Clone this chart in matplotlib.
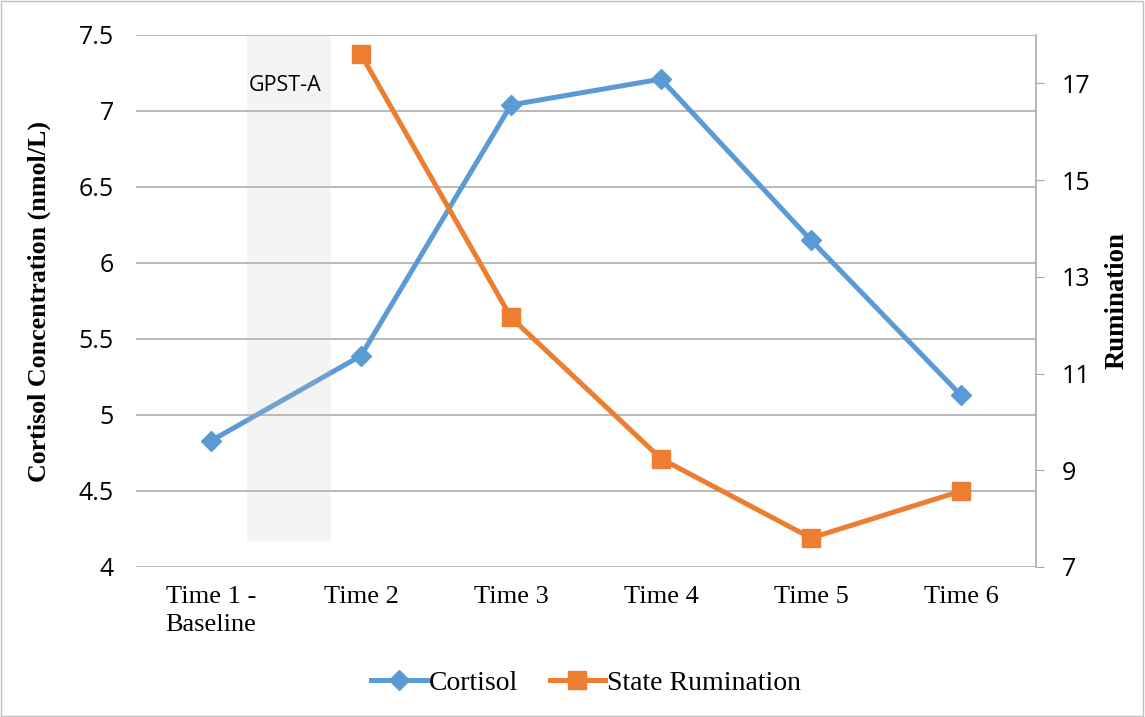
import numpy as np
import matplotlib.pyplot as plt
from matplotlib.patches import Rectangle

categories = ["Time 1 -\nBaseline", "Time 2", "Time 3", "Time 4", "Time 5", "Time 6"]
cortisol = [4.83, 5.39, 7.04, 7.21, 6.15, 5.13]
rumination = [np.nan, 17.6, 12.16, 9.24, 7.6, 8.57]

blue = "#5B9BD5"
orange = "#ED7D31"
serif = ["Liberation Serif", "DejaVu Serif"]
sans = ["Open Sans", "DejaVu Sans"]

fig = plt.figure(figsize=(11.45, 7.17), dpi=100)
fig.patches.append(Rectangle((0.001, 0.001), 0.997, 0.997, transform=fig.transFigure,
                             fill=False, edgecolor="#BFBFBF", linewidth=1))
ax = fig.add_axes([136/1145, 150/717, 900/1145, 532/717])
ax2 = ax.twinx()

x = np.arange(len(categories))

l1, = ax.plot(x, cortisol, color=blue, lw=3.6, marker="D", markersize=10.5,
              label="Cortisol", zorder=4)
l2, = ax2.plot(x, rumination, color=orange, lw=3.6, marker="s", markersize=13.5,
               label="State Rumination", zorder=4)

# shaded GPST-A window, semi-transparent over the lines
ax2.add_patch(Rectangle((0.24, 7.0 + (4.17 - 4) * 11 / 3.5), 0.56, 11, facecolor="#C4C4C4",
                        alpha=0.18, edgecolor="none", zorder=5))
ax2.text(0.25, 7.0 + (7.17 - 4) * 11 / 3.5, "GPST-A", fontsize=15.5, family=sans,
         va="center", ha="left", zorder=6)

ax.set_xlim(-0.5, 5.5)
ax.set_ylim(4, 7.5)
ax.set_yticks(np.arange(4, 7.51, 0.5))
ax.set_yticklabels(["4", "4.5", "5", "5.5", "6", "6.5", "7", "7.5"])
ax2.set_ylim(7, 18)
ax2.set_yticks([7, 9, 11, 13, 15, 17])

ax.set_xticks(x)
ax.set_xticklabels(categories, family=serif, fontsize=19, va="top", ha="center",
                   multialignment="left", linespacing=1.3)
ax.tick_params(axis="x", length=0, pad=14)
ax.tick_params(axis="y", length=0, pad=16, labelsize=18)
for t in ax.get_yticklabels():
    t.set_family(sans)
ax2.tick_params(axis="y", length=5.5, color="#A6A6A6", pad=13, labelsize=18)
for t in ax2.get_yticklabels():
    t.set_family(sans)

ax.grid(axis="y", color="#A6A6A6", lw=1.1)
ax.set_axisbelow(True)
for a in (ax, ax2):
    for s in ("top", "left", "bottom", "right"):
        a.spines[s].set_visible(False)
ax2.spines["right"].set_visible(True)
ax2.spines["right"].set_color("#A6A6A6")
ax2.spines["right"].set_linewidth(1.1)

ax.set_ylabel("Cortisol Concentration (nmol/L)", family=serif, fontweight="bold",
              fontsize=18.7, labelpad=20)
ax2.set_ylabel("Rumination", family=serif, fontweight="bold", fontsize=19.3,
               labelpad=10)

fig.legend(handles=[l1, l2], loc="center", bbox_to_anchor=(586/1145, 1 - 683/717),
           ncol=2, frameon=False, prop={"family": serif, "size": 20},
           handlelength=2.0, handletextpad=0.05, columnspacing=1.15)

fig.savefig("out.png", dpi=100)
